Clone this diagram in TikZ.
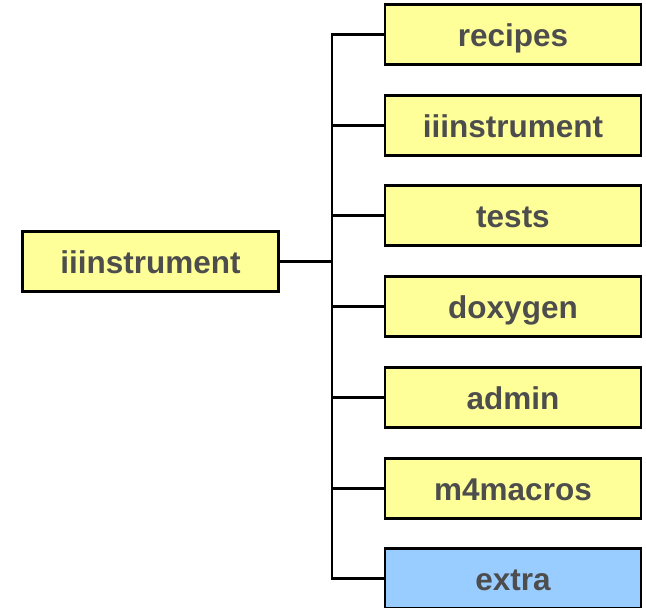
\documentclass[tikz,border=0pt]{standalone}
\usepackage{fontspec}
\setmainfont{Liberation Sans}
\definecolor{diryellow}{HTML}{FFFF99}
\definecolor{dirblue}{HTML}{99CCFF}
\definecolor{dirtext}{HTML}{4D4D4D}
\tikzset{
    dirbox/.style={draw=black, line width=2.4pt, fill=diryellow, minimum width=256pt,
        minimum height=60pt, inner sep=0pt, text height=30pt, text depth=7pt,
        text=dirtext, font=\fontsize{31.5}{36}\selectfont\bfseries},
    extrabox/.style={dirbox, fill=dirblue},
    branch/.style={draw=black, line width=2.4pt}
}
\begin{document}
\begin{tikzpicture}[x=1pt, y=-1pt]
    \useasboundingbox (0,0) rectangle (646,608);

    % Root directory
    \node[dirbox] (root) at (150.5,261.5) {iiinstrument};

    % Sub directories
    \node[dirbox] (recipes) at (513,34.5) {recipes};
    \node[dirbox] (inst) at (513,125.5) {iiinstrument};
    \node[dirbox] (tests) at (513,215.5) {tests};
    \node[dirbox] (doxygen) at (513,306.5) {doxygen};
    \node[dirbox] (admin) at (513,397.5) {admin};
    \node[dirbox] (m4macros) at (513,488.5) {m4macros};
    \node[extrabox] (extra) at (513,578.5) {extra};

    % Tree connectors
    \coordinate (trunk) at (332,261.5);
    \draw[branch] (root.east) -- (trunk);
    \draw[branch] (recipes.west) -| (trunk) |- (extra.west);
    \draw[branch] (inst.west) -- (inst.west -| trunk);
    \draw[branch] (tests.west) -- (tests.west -| trunk);
    \draw[branch] (doxygen.west) -- (doxygen.west -| trunk);
    \draw[branch] (admin.west) -- (admin.west -| trunk);
    \draw[branch] (m4macros.west) -- (m4macros.west -| trunk);
\end{tikzpicture}
\end{document}
